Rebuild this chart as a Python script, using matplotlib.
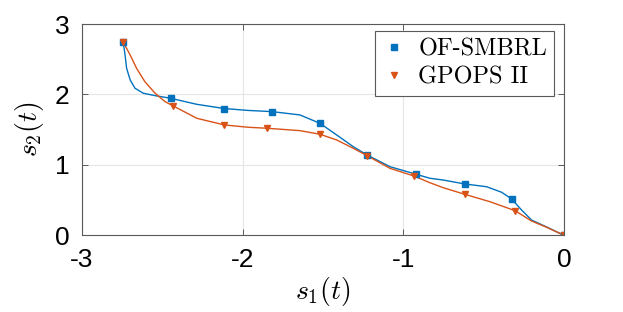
import matplotlib
matplotlib.use("Agg")
import matplotlib.pyplot as plt

BLUE = "#0072BD"
ORANGE = "#D95319"

# OF-SMBRL trajectory (curve) and its markers
of_curve_s1 = [-2.743, -2.732, -2.722, -2.70, -2.67, -2.618, -2.545, -2.448, -2.286, -2.114,
               -1.965, -1.816, -1.643, -1.519, -1.415, -1.312, -1.225, -1.083, -0.922, -0.835,
               -0.752, -0.617, -0.482, -0.388, -0.326, -0.264, -0.202, -0.108, 0.0]
of_curve_s2 = [2.74, 2.56, 2.37, 2.206, 2.088, 2.017, 1.983, 1.946, 1.86, 1.80,
               1.773, 1.756, 1.709, 1.59, 1.425, 1.259, 1.14, 0.974, 0.868, 0.81,
               0.785, 0.729, 0.69, 0.611, 0.516, 0.359, 0.217, 0.118, 0.0]
of_mark_s1 = [-2.743, -2.448, -2.114, -1.816, -1.519, -1.225, -0.922, -0.617, -0.326, 0.0]
of_mark_s2 = [2.74, 1.946, 1.80, 1.756, 1.59, 1.14, 0.868, 0.729, 0.516, 0.0]

# GPOPS II trajectory and its markers
gp_curve_s1 = [-2.743, -2.70, -2.66, -2.608, -2.545, -2.483, -2.432, -2.286, -2.114, -1.965,
               -1.847, -1.643, -1.519, -1.415, -1.312, -1.225, -1.083, -0.934, -0.835, -0.752,
               -0.617, -0.461, -0.305, -0.202, -0.108, 0.0]
gp_curve_s2 = [2.74, 2.56, 2.37, 2.18, 2.017, 1.898, 1.837, 1.662, 1.567, 1.534,
               1.52, 1.486, 1.435, 1.354, 1.236, 1.13, 0.951, 0.842, 0.747, 0.676,
               0.582, 0.477, 0.35, 0.203, 0.114, 0.0]
gp_mark_s1 = [-2.743, -2.432, -2.114, -1.847, -1.519, -1.225, -0.934, -0.617, -0.305, 0.0]
gp_mark_s2 = [2.74, 1.837, 1.567, 1.52, 1.435, 1.13, 0.842, 0.582, 0.35, 0.0]

plt.rcParams["mathtext.fontset"] = "cm"
plt.rcParams["axes.unicode_minus"] = False

fig = plt.figure(figsize=(6.23, 3.12), dpi=100)
ax = fig.add_axes([0.1316, 0.2458, 0.7737, 0.6772])

ax.plot(of_curve_s1, of_curve_s2, color=BLUE, lw=1.0, solid_joinstyle="round")
ax.plot(gp_curve_s1, gp_curve_s2, color=ORANGE, lw=1.0, solid_joinstyle="round")
ax.plot(of_mark_s1, of_mark_s2, ls="none", marker="s", ms=4.5, color=BLUE, label="OF-SMBRL")
ax.plot(gp_mark_s1, gp_mark_s2, ls="none", marker="v", ms=5, color=ORANGE, label="GPOPS II")

ax.set_xlim(-3, 0)
ax.set_ylim(0, 3)
ax.set_xticks([-3, -2, -1, 0])
ax.set_yticks([0, 1, 2, 3])
ax.grid(True, color="#e6e6e6", lw=0.8)
ax.set_axisbelow(True)
ax.tick_params(direction="in", length=4, width=0.7, color="0.35", labelsize=19, pad=9,
               top=True, right=True)
for lab in ax.get_xticklabels() + ax.get_yticklabels():
    lab.set_family("Liberation Sans")
for sp in ax.spines.values():
    sp.set_color("0.35")
    sp.set_linewidth(0.8)

ax.set_xlabel(r"$s_1(t)$", fontsize=20, labelpad=2)
ax.set_ylabel(r"$s_2(t)$", fontsize=20, labelpad=6)

leg = ax.legend(loc="upper right", bbox_to_anchor=(0.99, 0.99), prop={"family": "cmr10", "size": 17.5},
                fancybox=False, edgecolor="0.35", framealpha=1, borderpad=0.3,
                handlelength=1.0, handletextpad=0.5, labelspacing=0.25, borderaxespad=0.2,
                markerscale=0.9)
leg.get_frame().set_linewidth(0.8)

fig.savefig("out.png", dpi=100)
